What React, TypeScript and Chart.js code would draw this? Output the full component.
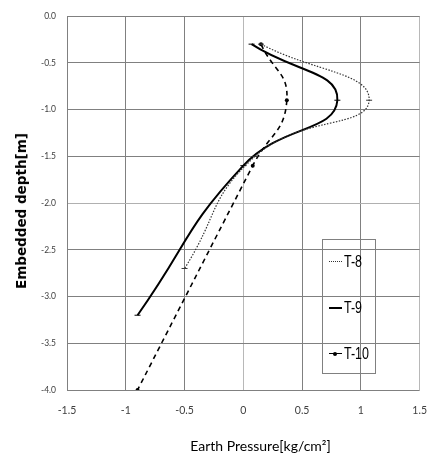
import React, { useEffect, useRef } from "react";
import { Chart, registerables } from "chart.js";

Chart.register(...registerables);

const SERIES_NAMES = ["T-8", "T-9", "T-10"];
const T8_PRESSURE = [0.15, 1.07, 0.1, -0.5];
const T8_DEPTH = [-0.3, -0.9, -1.5, -2.7];
const T9_PRESSURE = [0.07, 0.8, 0.0, -0.9];
const T9_DEPTH = [-0.3, -0.9, -1.6, -3.2];
const T10_PRESSURE = [0.15, 0.37, 0.08, -0.9];
const T10_DEPTH = [-0.3, -0.9, -1.6, -4.0];

const X_TICK_LABELS = ["-1.5", "-1", "-0.5", "0", "0.5", "1", "1.5"];
const Y_TICK_LABELS = ["0.0", "-0.5", "-1.0", "-1.5", "-2.0", "-2.5", "-3.0", "-3.5", "-4.0"];

const X_TITLE = "Earth Pressure[kg/cm²]";
const Y_TITLE = "Embedded depth[m]";

const toPoints = (xs: number[], ys: number[]) => xs.map((x, i) => ({ x, y: ys[i] }));
const findLabel = (labels: string[], v: number) => {
  const l = labels.find((s) => Math.abs(Number(s) - v) < 1e-9);
  return l === undefined ? "" : l;
};

const FONT = "Lato, 'Liberation Sans', sans-serif";

export default function App() {
  const ref = useRef<HTMLCanvasElement | null>(null);

  useEffect(() => {
    if (!ref.current) return;
    const chart = new Chart(ref.current, {
      type: "scatter",
      data: {
        datasets: [
          {
            label: SERIES_NAMES[0],
            data: toPoints(T8_PRESSURE, T8_DEPTH),
            showLine: true,
            tension: 0.5,
            borderColor: "#333333",
            borderWidth: 1.2,
            borderDash: [1.5, 1.5],
            pointStyle: "line",
            pointRadius: 3,
            pointBorderWidth: 1,
            pointBorderColor: "#333333",
            pointBackgroundColor: "#333333",
          },
          {
            label: SERIES_NAMES[1],
            data: toPoints(T9_PRESSURE, T9_DEPTH),
            showLine: true,
            tension: 0.5,
            borderColor: "#000000",
            borderWidth: 2,
            pointStyle: "line",
            pointRadius: 3,
            pointBorderWidth: 1,
            pointBorderColor: "#000000",
            pointBackgroundColor: "#000000",
          },
          {
            label: SERIES_NAMES[2],
            data: toPoints(T10_PRESSURE, T10_DEPTH),
            showLine: true,
            tension: 0.5,
            borderColor: "#000000",
            borderWidth: 1.6,
            borderDash: [5, 4],
            pointStyle: "circle",
            pointRadius: 2,
            pointBorderWidth: 0,
            pointBackgroundColor: "#000000",
          },
        ],
      },
      options: {
        responsive: false,
        animation: false,
        events: [],
        layout: { padding: { top: 11, right: 9, left: 0, bottom: 0 } },
        plugins: { legend: { display: false }, tooltip: { enabled: false } },
        scales: {
          x: {
            type: "linear",
            min: -1.5,
            max: 1.5,
            ticks: {
              stepSize: 0.5,
              padding: 14,
              color: "#404040",
              font: { family: FONT, size: 10.5 },
              callback: (v: any) => findLabel(X_TICK_LABELS, Number(v)),
            },
            grid: {
              drawTicks: false,
              color: (ctx: any) =>
                ctx.tick && (ctx.tick.value === 0 || ctx.tick.value === 1.5) ? "#b8b8b8" : "#808080",
            },
            border: { display: false },
            title: { display: false },
            afterFit: (s: any) => {
              s.height = 69;
            },
          },
          y: {
            type: "linear",
            min: -4,
            max: 0,
            ticks: {
              stepSize: 0.5,
              padding: 11,
              color: "#404040",
              font: { family: FONT, size: 8.5 },
              callback: (v: any) => findLabel(Y_TICK_LABELS, Number(v)),
            },
            grid: {
              drawTicks: false,
              color: (ctx: any) => (ctx.tick && ctx.tick.value === -2 ? "#b0b0b0" : "#808080"),
            },
            border: { display: true, color: "#808080" },
            title: { display: false },
            afterFit: (s: any) => {
              s.width = 67;
            },
          },
        },
      },
    } as any);
    return () => chart.destroy();
  }, []);

  const legendItems = [
    { name: SERIES_NAMES[0], top: 262, kind: "dotted" },
    { name: SERIES_NAMES[1], top: 308, kind: "solid" },
    { name: SERIES_NAMES[2], top: 354, kind: "marker" },
  ];

  return (
    <div style={{ position: "fixed", left: 0, top: 0, width: 441, height: 459, background: "#fff" }}>
      <canvas ref={ref} width={441} height={459} style={{ display: "block" }} />
      <div
        style={{
          position: "absolute",
          left: 21,
          top: 211,
          transform: "translate(-50%, -50%) rotate(-90deg)",
          fontFamily: "'DejaVu Sans', sans-serif",
          fontWeight: "bold",
          fontSize: 13.5,
          lineHeight: "16px",
          color: "#000",
          whiteSpace: "nowrap",
        }}
      >
        {Y_TITLE}
      </div>
      <div
        style={{
          position: "absolute",
          left: 260.5,
          top: 446,
          transform: "translate(-50%, -50%)",
          fontFamily: FONT,
          fontSize: 14,
          lineHeight: "18px",
          color: "#000",
          whiteSpace: "nowrap",
        }}
      >
        {X_TITLE}
      </div>
      <div
        style={{
          position: "absolute",
          left: 322,
          top: 239,
          width: 54,
          height: 135,
          border: "1px solid #808080",
          boxSizing: "border-box",
        }}
      />
      {legendItems.map((it) => (
        <div key={it.name}>
          <div
            style={{
              position: "absolute",
              left: 329,
              top: it.top - 1,
              width: 13,
              height: 0,
              borderTop:
                it.kind === "dotted"
                  ? "1px dotted #333"
                  : it.kind === "solid"
                  ? "2px solid #000"
                  : "1.5px solid #000",
            }}
          />
          {it.kind === "marker" && (
            <div
              style={{
                position: "absolute",
                left: 333,
                top: it.top - 2.5,
                width: 4,
                height: 4,
                borderRadius: 2,
                background: "#000",
              }}
            />
          )}
          <div
            style={{
              position: "absolute",
              left: 344,
              top: it.top - 10,
              height: 20,
              lineHeight: "20px",
              fontFamily: "'Liberation Sans', sans-serif",
              fontSize: 16,
              color: "#000",
              transform: "scaleX(0.78)",
              transformOrigin: "left center",
              whiteSpace: "nowrap",
            }}
          >
            {it.name}
          </div>
        </div>
      ))}
    </div>
  );
}
